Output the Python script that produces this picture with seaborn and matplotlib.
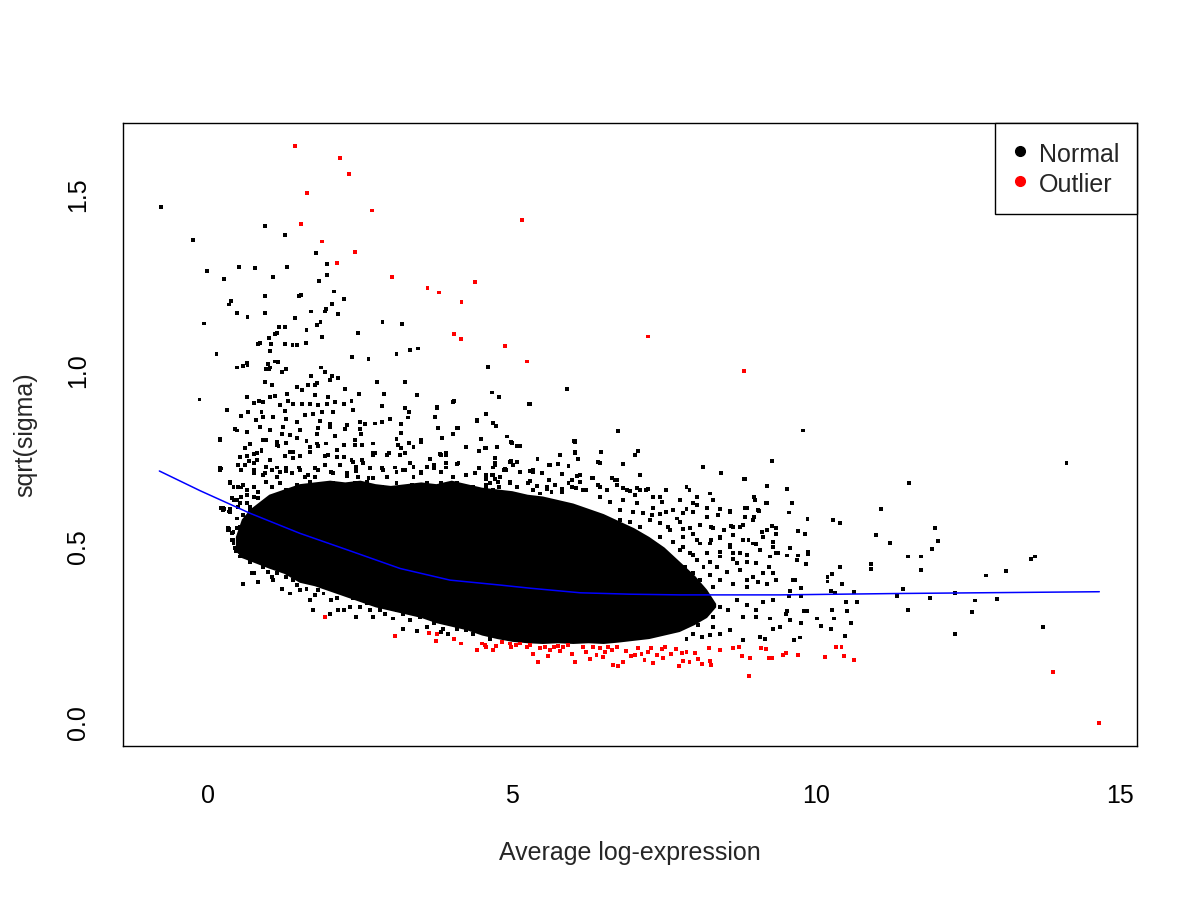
import numpy as np
import pandas as pd
import seaborn as sns
import matplotlib.pyplot as plt
from matplotlib.lines import Line2D

# ---------------- values ----------------
# sparse "Normal" genes above the main cloud
normal_upper = [(-0.78, 1.465), (-0.24, 1.371), (0.93, 1.411), (1.26, 1.387), (1.78, 1.334), (1.96, 1.303),
                (-0.02, 1.285), (0.51, 1.295), (0.77, 1.292), (1.30, 1.295), (0.27, 1.261), (1.07, 1.268),
                (1.96, 1.272), (1.83, 1.255), (2.07, 1.226), (0.93, 1.214), (1.49, 1.212), (1.53, 1.217),
                (2.24, 1.204), (0.38, 1.200), (0.35, 1.189), (2.04, 1.191), (1.94, 1.177), (1.92, 1.169),
                (1.70, 1.169), (0.48, 1.165), (0.94, 1.166), (2.14, 1.161), (0.65, 1.153), (1.43, 1.150),
                (-0.07, 1.135), (1.85, 1.138), (1.79, 1.130), (1.17, 1.125), (1.26, 1.126), (2.87, 1.138),
                (3.19, 1.134), (1.62, 1.116), (2.47, 1.108), (1.13, 1.108), (1.10, 1.104), (1.87, 1.097),
                (1.01, 1.093), (0.82, 1.077), (0.85, 1.079), (1.03, 1.078), (1.27, 1.076), (1.39, 1.074),
                (1.46, 1.075), (1.61, 1.079), (1.02, 1.056), (0.14, 1.049), (3.10, 1.048), (3.33, 1.061),
                (3.46, 1.064), (2.37, 1.039), (2.64, 1.034), (1.10, 1.027), (1.15, 1.025), (0.64, 1.023),
                (0.65, 1.017), (0.47, 1.010), (0.58, 1.013), (0.98, 1.020), (0.95, 1.005), (1.00, 1.007),
                (1.02, 1.010), (1.29, 1.005), (1.21, 0.996), (1.86, 1.010), (1.92, 0.996), (2.04, 0.985),
                (2.14, 0.979), (1.70, 0.987), (2.00, 0.975), (2.78, 0.970), (3.24, 0.968), (4.60, 1.011),
                (-0.14, 0.919)]

# left / middle part of the cloud, above and around the dense core
normal_left = [(0.94, 0.970), (1.05, 0.960), (1.46, 0.955), (1.54, 0.946), (1.65, 0.960), (1.76, 0.960),
               (1.79, 0.966), (2.25, 0.950), (2.49, 0.934), (2.90, 0.936), (3.44, 0.933), (0.64, 0.927),
               (1.02, 0.927), (1.10, 0.929), (1.30, 0.934), (1.76, 0.931), (1.98, 0.927),
               (0.75, 0.910), (0.84, 0.914), (0.91, 0.912), (1.18, 0.903), (1.32, 0.915), (1.40, 0.906),
               (1.54, 0.905), (1.68, 0.906), (1.81, 0.903), (1.95, 0.906), (2.09, 0.912), (2.24, 0.905),
               (2.36, 0.915), (2.86, 0.900), (3.24, 0.896), (3.76, 0.896), (4.03, 0.912), (0.31, 0.889),
               (0.66, 0.884), (0.88, 0.884), (1.27, 0.887), (1.87, 0.884), (2.06, 0.884), (2.39, 0.889),
               (3.31, 0.884), (0.54, 0.872), (0.79, 0.862), (0.91, 0.870), (1.07, 0.870), (1.29, 0.865),
               (1.46, 0.856), (1.59, 0.875), (1.73, 0.879), (1.84, 0.858), (2.01, 0.851), (2.28, 0.846),
               (2.50, 0.856), (2.58, 0.849), (2.75, 0.851), (2.86, 0.856), (2.99, 0.865), (3.18, 0.849),
               (3.29, 0.868), (3.73, 0.870), (4.42, 0.858), (0.44, 0.834), (0.85, 0.841), (1.02, 0.832),
               (1.24, 0.841), (1.51, 0.832), (1.81, 0.837), (2.01, 0.841), (2.25, 0.834), (2.50, 0.834),
               (3.79, 0.837), (4.12, 0.837), (4.04, 0.914), (3.76, 0.897), (4.10, 0.837), (4.42, 0.860),
               (0.20, 0.808), (0.64, 0.827), (0.91, 0.804), (1.21, 0.822), (1.35, 0.818), (1.46, 0.811),
               (1.62, 0.801), (1.79, 0.822), (1.94, 0.794), (2.09, 0.815), (2.23, 0.789), (2.42, 0.804),
               (2.51, 0.822), (2.72, 0.794), (3.10, 0.808), (3.17, 0.824), (3.31, 0.796), (3.50, 0.804),
               (4.03, 0.821), (0.96, 0.805), (1.13, 0.799), (1.79, 0.794), (3.85, 0.811), (4.49, 0.807),
               (0.61, 0.780), (0.75, 0.764), (0.88, 0.773), (1.16, 0.786), (1.27, 0.758), (1.51, 0.758),
               (1.68, 0.770), (1.92, 0.758), (2.12, 0.775), (2.23, 0.756), (2.36, 0.747), (2.53, 0.747),
               (2.72, 0.768), (2.97, 0.768), (3.18, 0.780), (3.24, 0.768), (3.65, 0.751), (3.82, 0.764),
               (3.92, 0.761), (4.45, 0.773), (0.53, 0.756), (0.68, 0.745), (1.02, 0.747), (1.40, 0.770),
               (0.21, 0.723), (0.55, 0.720), (0.75, 0.718), (0.94, 0.709), (1.13, 0.726), (1.29, 0.716),
               (1.49, 0.726), (1.65, 0.704), (1.81, 0.720), (2.06, 0.709), (2.28, 0.701), (2.44, 0.716),
               (2.72, 0.695), (2.88, 0.720), (3.08, 0.726), (3.24, 0.720), (3.38, 0.728), (3.51, 0.714),
               (3.71, 0.723), (3.92, 0.726), (4.10, 0.735), (4.45, 0.724), (0.20, 0.719), (0.49, 0.733),
               (0.31, 0.888), (0.47, 0.831), (0.20, 0.804),
               (0.36, 0.685), (0.42, 0.671), (0.55, 0.669), (0.64, 0.661), (0.39, 0.638), (0.47, 0.633),
               (0.55, 0.643), (0.26, 0.609), (0.36, 0.607), (0.50, 0.614), (0.64, 0.624), (0.75, 0.600),
               (0.33, 0.553), (0.42, 0.543), (0.53, 0.557), (0.61, 0.538), (0.69, 0.543), (0.77, 0.529),
               (0.42, 0.512), (0.53, 0.501), (0.64, 0.505), (0.83, 0.519), (0.75, 0.482), (0.55, 0.482),
               (0.69, 0.458), (0.83, 0.463), (0.75, 0.427), (0.91, 0.448), (0.57, 0.394), (0.83, 0.401),
               (0.25, 0.604), (0.35, 0.601), (0.35, 0.550), (0.40, 0.520), (0.46, 0.490)]

# semi-dense band just above the solid core (and its left nose)
normal_edge = [(0.69, 0.793), (0.88, 0.776), (1.13, 0.790), (1.28, 0.795), (1.51, 0.759), (1.68, 0.785),
               (1.81, 0.787), (1.98, 0.761), (2.12, 0.757), (2.23, 0.790), (2.42, 0.790), (2.53, 0.790),
               (2.72, 0.761), (2.94, 0.761), (3.13, 0.790), (3.16, 0.761), (3.38, 0.785), (3.51, 0.799),
               (3.83, 0.761), (3.92, 0.766), (4.25, 0.785), (4.56, 0.780), (4.75, 0.785), (0.64, 0.759),
               (0.80, 0.766), (1.35, 0.771), (1.40, 0.752), (2.75, 0.766), (0.80, 0.747),
               (0.20, 0.724), (0.50, 0.733), (0.61, 0.733), (0.75, 0.738), (0.96, 0.728), (1.05, 0.719),
               (1.18, 0.714), (1.29, 0.724), (1.38, 0.709), (1.51, 0.719), (1.59, 0.700), (1.76, 0.724),
               (1.92, 0.733), (2.03, 0.714), (2.17, 0.733), (2.28, 0.709), (2.39, 0.742), (2.44, 0.728),
               (2.55, 0.738), (2.66, 0.724), (2.86, 0.724), (3.10, 0.714), (3.21, 0.719), (3.32, 0.738),
               (3.51, 0.709), (3.60, 0.728), (3.71, 0.733), (3.84, 0.714), (3.92, 0.738), (4.12, 0.738),
               (4.25, 0.705), (4.39, 0.709), (4.58, 0.705), (4.72, 0.733), (0.75, 0.709), (0.91, 0.705),
               (1.13, 0.700), (1.76, 0.700), (2.47, 0.700), (2.64, 0.695), (2.94, 0.700), (3.38, 0.700),
               (4.03, 0.698),
               (0.36, 0.683), (0.50, 0.671), (0.58, 0.676), (0.75, 0.671), (0.83, 0.657), (0.64, 0.648),
               (0.75, 0.643), (0.96, 0.686), (1.05, 0.671), (1.18, 0.681), (1.29, 0.662), (1.46, 0.676),
               (1.57, 0.652), (1.68, 0.686), (1.79, 0.671), (1.90, 0.648), (2.06, 0.681), (2.17, 0.662),
               (2.28, 0.676), (2.42, 0.681), (2.50, 0.657), (2.61, 0.686), (2.72, 0.662), (2.86, 0.671),
               (2.94, 0.648), (3.10, 0.681), (3.21, 0.662), (3.35, 0.676), (3.46, 0.652), (3.60, 0.681),
               (3.71, 0.662), (3.84, 0.681), (3.95, 0.657), (4.09, 0.681), (4.20, 0.662), (4.36, 0.671),
               (4.47, 0.652), (4.58, 0.676), (4.69, 0.662), (4.77, 0.686), (0.25, 0.610), (0.42, 0.634),
               (0.53, 0.624), (0.69, 0.615), (0.83, 0.638),
               (0.22, 0.610), (0.36, 0.600), (0.47, 0.581), (0.58, 0.591), (0.69, 0.605), (0.80, 0.586),
               (0.91, 0.600), (0.33, 0.548), (0.39, 0.539), (0.47, 0.553), (0.55, 0.558), (0.64, 0.544),
               (0.75, 0.563), (0.83, 0.553), (0.42, 0.520), (0.53, 0.510), (0.64, 0.525), (0.77, 0.520),
               (0.91, 0.529), (0.44, 0.496), (0.58, 0.491), (0.69, 0.482), (0.83, 0.501), (0.96, 0.487),
               (0.53, 0.473), (0.75, 0.468),
               (4.56, 0.780), (4.75, 0.785), (5.00, 0.796), (5.10, 0.787), (6.04, 0.799), (5.79, 0.761),
               (6.04, 0.766), (6.47, 0.771), (7.02, 0.761), (7.08, 0.774), (4.72, 0.738), (4.97, 0.742),
               (5.02, 0.733), (4.89, 0.721), (5.13, 0.714), (5.35, 0.714), (5.49, 0.709), (5.63, 0.733),
               (5.76, 0.736), (5.93, 0.730), (6.09, 0.749), (6.45, 0.740), (6.83, 0.736), (4.58, 0.702),
               (4.69, 0.705), (4.80, 0.700), (6.12, 0.705), (7.11, 0.705),
               (4.57, 0.671), (4.64, 0.681), (4.78, 0.671), (4.97, 0.686), (5.08, 0.671), (5.27, 0.681),
               (5.35, 0.662), (5.46, 0.652), (5.57, 0.671), (5.71, 0.676), (5.82, 0.657), (5.93, 0.681),
               (6.06, 0.667), (6.17, 0.662), (6.31, 0.695), (6.42, 0.676), (6.56, 0.662), (6.69, 0.690),
               (6.72, 0.676), (6.89, 0.662), (7.05, 0.667), (7.21, 0.662), (7.54, 0.662), (7.87, 0.671),
               (8.04, 0.643), (8.26, 0.652), (8.31, 0.634), (9.00, 0.634), (9.19, 0.624), (6.45, 0.643),
               (6.61, 0.629), (6.83, 0.634), (7.05, 0.624), (7.32, 0.643), (7.46, 0.629), (7.76, 0.634),
               (7.98, 0.624), (7.02, 0.648),
               (6.78, 0.605), (6.99, 0.600), (7.16, 0.596), (7.32, 0.610), (7.54, 0.600), (7.65, 0.605),
               (7.82, 0.596), (7.98, 0.600), (8.20, 0.586), (8.39, 0.591), (8.59, 0.600), (8.86, 0.610),
               (9.05, 0.605), (6.78, 0.577), (6.94, 0.572), (7.11, 0.558), (7.27, 0.577), (7.43, 0.567),
               (7.60, 0.548), (7.76, 0.572), (7.93, 0.553), (8.09, 0.563), (8.31, 0.553), (8.48, 0.548),
               (8.64, 0.558), (8.80, 0.563), (8.97, 0.577), (9.19, 0.548), (9.35, 0.553), (6.83, 0.539),
               (7.05, 0.529), (7.21, 0.520), (7.43, 0.529), (7.65, 0.515), (7.82, 0.529), (8.04, 0.520),
               (8.26, 0.510), (8.42, 0.525), (8.59, 0.506), (8.80, 0.520), (8.97, 0.510), (9.13, 0.529),
               (9.30, 0.501), (6.78, 0.501), (6.99, 0.491), (7.32, 0.487), (7.54, 0.482), (7.76, 0.491),
               (7.98, 0.477), (8.20, 0.482), (8.42, 0.473), (8.64, 0.482), (8.86, 0.477), (9.08, 0.491),
               (9.24, 0.473), (9.35, 0.482)]

# lower edge of the cloud
normal_lower = [(1.21, 0.382), (1.35, 0.368), (1.51, 0.377), (1.62, 0.382), (1.68, 0.349), (1.76, 0.363),
                (1.90, 0.368), (2.03, 0.349), (2.12, 0.354), (2.23, 0.368), (2.39, 0.354), (1.73, 0.321),
                (2.01, 0.311), (2.14, 0.322), (2.44, 0.300), (2.72, 0.300), (2.91, 0.311), (3.05, 0.297),
                (3.21, 0.268), (3.43, 0.262), (3.71, 0.283), (3.95, 0.254), (4.25, 0.264), (2.47, 0.368),
                (2.61, 0.340), (2.83, 0.321), (3.21, 0.311), (3.49, 0.302), (3.87, 0.268),
                (0.72, 0.427), (1.07, 0.406), (1.13, 0.425), (1.29, 0.415), (0.91, 0.444), (0.99, 0.429),
                (1.05, 0.415), (1.18, 0.434), (1.40, 0.406), (1.46, 0.392), (1.81, 0.377), (1.92, 0.394),
                (2.23, 0.321), (2.33, 0.330), (2.50, 0.330), (2.66, 0.321), (2.86, 0.344), (3.10, 0.321),
                (3.32, 0.292), (3.60, 0.273), (3.83, 0.259), (4.09, 0.268), (4.36, 0.254), (4.64, 0.240)]

# right-hand part of the cloud and the sparse high-expression tail
normal_right = [(4.67, 0.939), (4.79, 0.925), (5.90, 0.948), (5.29, 0.905), (4.57, 0.877), (4.69, 0.853),
                (4.74, 0.843), (6.74, 0.829), (4.99, 0.797), (5.08, 0.787), (5.13, 0.787),
                (4.57, 0.780), (6.03, 0.801), (4.75, 0.785), (6.47, 0.770), (7.02, 0.761), (7.08, 0.772),
                (5.79, 0.761), (6.04, 0.770), (6.09, 0.749), (5.42, 0.749), (4.99, 0.744), (4.72, 0.754),
                (5.09, 0.742), (5.60, 0.733), (5.76, 0.737), (5.93, 0.730), (5.30, 0.716), (5.35, 0.718),
                (5.49, 0.709), (4.91, 0.720), (4.86, 0.720), (4.69, 0.726), (5.14, 0.714), (5.83, 0.707),
                (6.42, 0.742), (6.83, 0.735), (8.14, 0.728), (8.43, 0.711), (9.27, 0.744), (7.11, 0.704),
                (6.34, 0.695), (6.64, 0.695), (6.72, 0.690), (5.98, 0.690), (6.07, 0.701), (6.12, 0.685),
                (5.61, 0.690), (5.29, 0.688), (4.96, 0.683), (4.67, 0.704), (4.58, 0.692), (4.72, 0.692),
                (8.82, 0.692), (9.19, 0.673), (5.09, 0.671), (5.41, 0.673), (5.57, 0.666), (5.65, 0.657),
                (5.82, 0.666), (5.98, 0.671), (6.22, 0.663), (6.45, 0.671), (6.56, 0.663), (6.83, 0.668),
                (6.94, 0.659), (7.11, 0.663), (7.24, 0.666), (7.54, 0.661), (7.87, 0.669), (7.92, 0.661),
                (8.26, 0.652), (8.31, 0.633), (5.28, 0.905), (6.02, 0.800), (4.92, 0.814), (4.99, 0.798),
                (7.43, 0.643), (7.76, 0.635), (7.87, 0.607), (8.04, 0.619), (8.20, 0.611), (8.42, 0.607),
                (8.59, 0.602), (8.83, 0.611), (8.98, 0.641), (9.07, 0.603), (9.18, 0.626), (9.27, 0.559),
                (9.35, 0.538), (8.98, 0.584), (8.83, 0.584), (8.60, 0.559), (8.75, 0.557), (8.64, 0.534),
                (8.42, 0.529), (8.28, 0.519), (8.09, 0.510), (7.98, 0.536), (7.82, 0.550), (7.57, 0.557),
                (7.43, 0.595), (7.30, 0.590), (7.71, 0.581), (8.28, 0.557), (8.42, 0.486), (8.59, 0.501),
                (8.75, 0.482), (8.89, 0.521), (9.02, 0.508), (9.11, 0.543), (9.30, 0.515), (9.37, 0.483),
                (8.64, 0.467), (8.70, 0.455), (8.86, 0.458), (9.02, 0.455), (9.22, 0.444), (9.30, 0.425),
                (9.13, 0.425), (8.97, 0.415), (8.86, 0.406), (8.75, 0.434), (8.53, 0.429), (8.37, 0.444),
                (8.26, 0.420), (8.42, 0.406), (8.64, 0.396), (8.86, 0.387), (9.05, 0.401), (9.19, 0.396),
                (9.35, 0.406), (8.70, 0.349), (8.86, 0.335), (9.02, 0.321), (9.13, 0.344), (9.30, 0.349),
                (8.56, 0.321), (8.42, 0.330), (8.80, 0.302), (9.02, 0.300), (9.24, 0.297), (9.30, 0.266),
                (9.08, 0.245), (9.16, 0.240), (8.80, 0.235), (8.59, 0.264), (8.42, 0.254), (8.31, 0.273),
                (8.12, 0.245), (7.98, 0.254), (7.87, 0.240), (7.82, 0.501), (7.93, 0.482), (8.04, 0.463),
                (7.85, 0.444), (7.98, 0.425), (8.09, 0.406), (7.90, 0.387), (8.04, 0.368), (8.20, 0.482),
                (8.26, 0.458), (8.15, 0.444), (8.31, 0.387), (8.20, 0.358), (7.82, 0.349), (7.98, 0.321),
                (8.15, 0.311), (8.31, 0.302), (7.87, 0.292), (8.06, 0.278), (7.76, 0.268), (8.26, 0.250),
                (7.82, 0.406), (7.74, 0.368), (7.71, 0.321), (8.15, 0.728), (8.44, 0.711), (8.83, 0.692),
                (9.78, 0.831), (9.27, 0.743), (14.12, 0.740), (11.53, 0.683), (9.53, 0.666), (9.61, 0.626),
                (11.07, 0.609), (9.56, 0.598), (9.86, 0.580), (10.28, 0.578), (10.40, 0.569), (11.96, 0.555),
                (12.00, 0.518), (11.91, 0.494), (10.99, 0.535), (11.22, 0.512), (11.52, 0.473), (11.73, 0.473),
                (11.72, 0.436), (13.54, 0.465), (13.60, 0.473), (12.80, 0.419), (13.13, 0.433), (10.91, 0.453),
                (10.91, 0.437), (10.19, 0.416), (10.19, 0.402), (10.27, 0.424), (10.40, 0.444), (10.43, 0.396),
                (10.24, 0.375), (10.32, 0.370), (10.63, 0.372), (11.43, 0.382), (11.34, 0.362), (12.29, 0.370),
                (11.88, 0.356), (12.62, 0.348), (12.97, 0.352), (10.49, 0.344), (10.68, 0.345), (11.52, 0.322),
                (12.56, 0.315), (10.26, 0.320), (10.51, 0.319), (10.02, 0.297), (10.30, 0.297), (10.58, 0.283),
                (10.09, 0.275), (10.24, 0.267), (13.74, 0.274), (12.28, 0.252), (10.48, 0.247), (9.64, 0.235),
                (9.74, 0.243), (9.41, 0.272), (9.58, 0.293), (9.76, 0.285), (9.50, 0.310), (9.80, 0.318),
                (9.57, 0.497), (9.53, 0.476), (9.57, 0.375), (9.56, 0.361), (9.70, 0.545), (9.69, 0.464),
                (9.71, 0.476), (9.82, 0.536), (9.83, 0.451), (9.87, 0.487), (9.87, 0.480), (9.75, 0.384),
                (9.75, 0.360), (9.66, 0.405), (9.62, 0.407), (9.53, 0.319), (9.85, 0.319)]

# genes flagged as outliers
outlier_high = [(1.43, 1.639), (2.17, 1.605), (2.32, 1.559), (1.63, 1.507), (2.70, 1.456), (1.53, 1.417),
                (1.88, 1.368), (2.42, 1.338), (2.12, 1.306), (3.03, 1.268), (3.61, 1.235), (3.80, 1.223),
                (4.17, 1.195), (4.05, 1.104), (4.16, 1.091), (5.17, 1.430), (4.39, 1.252), (4.89, 1.072),
                (5.25, 1.027), (7.24, 1.098), (8.82, 0.999)]

outlier_low = [(1.93, 0.300), (3.08, 0.246), (3.64, 0.255), (3.77, 0.252), (3.75, 0.232), (4.05, 0.238),
               (4.16, 0.226), (4.42, 0.207), (4.50, 0.226), (4.55, 0.221), (4.58, 0.216), (4.69, 0.207),
               (4.73, 0.218), (4.84, 0.231), (4.96, 0.226), (4.99, 0.216), (5.06, 0.221), (5.13, 0.226),
               (5.24, 0.216), (5.29, 0.221), (5.35, 0.196), (5.43, 0.174), (5.46, 0.212), (5.54, 0.216),
               (5.59, 0.190), (5.62, 0.207), (5.69, 0.216), (5.76, 0.218), (5.79, 0.205), (5.84, 0.216),
               (5.92, 0.221), (5.98, 0.196), (6.03, 0.174), (6.17, 0.216), (6.22, 0.202), (6.28, 0.183),
               (6.33, 0.216), (6.39, 0.193), (6.44, 0.212), (6.50, 0.188), (6.53, 0.202), (6.58, 0.216),
               (6.64, 0.207), (6.66, 0.164), (6.72, 0.216), (6.75, 0.161), (6.83, 0.174), (6.88, 0.205),
               (6.96, 0.190), (7.02, 0.193), (7.07, 0.214), (7.13, 0.197), (7.18, 0.180), (7.24, 0.202),
               (7.29, 0.212), (7.32, 0.171), (7.38, 0.193), (7.46, 0.209), (7.49, 0.186), (7.51, 0.216),
               (7.62, 0.196), (7.70, 0.209), (7.75, 0.161), (7.79, 0.199), (7.81, 0.177), (7.87, 0.202),
               (7.92, 0.174), (8.01, 0.199), (8.06, 0.183), (8.12, 0.167), (8.24, 0.214), (8.25, 0.176),
               (8.28, 0.164), (8.42, 0.207), (8.64, 0.214), (8.74, 0.216), (8.79, 0.190), (8.92, 0.186),
               (8.90, 0.133), (9.10, 0.214), (9.18, 0.209), (9.23, 0.186), (9.27, 0.186), (9.45, 0.194),
               (9.51, 0.200), (9.70, 0.194), (10.15, 0.187), (10.33, 0.215), (10.42, 0.216), (10.46, 0.191),
               (10.63, 0.180), (13.90, 0.144), (14.66, 0.000)]

# saturated core of the cloud: lower / upper edge of the solid black region
core_x = [0.45, 0.55, 0.7, 0.85, 1.0, 1.25, 1.5, 1.75, 2.0, 2.25, 2.5, 2.75, 3.0, 3.25, 3.5, 3.75, 4.0,
          4.25, 4.5, 4.75, 5.0, 5.25, 5.5, 5.75, 6.0, 6.25, 6.5, 6.75, 7.0, 7.25, 7.5, 7.75, 8.0, 8.2, 8.35]
core_upper = [0.53, 0.58, 0.61, 0.63, 0.65, 0.665, 0.68, 0.685, 0.69, 0.685, 0.69, 0.68, 0.675, 0.68,
              0.685, 0.68, 0.69, 0.68, 0.67, 0.665, 0.66, 0.65, 0.645, 0.635, 0.625, 0.61, 0.595, 0.575,
              0.555, 0.53, 0.50, 0.46, 0.42, 0.38, 0.34]
core_lower = [0.49, 0.47, 0.46, 0.45, 0.44, 0.425, 0.40, 0.39, 0.375, 0.36, 0.345, 0.33, 0.32, 0.31,
              0.30, 0.285, 0.275, 0.265, 0.25, 0.24, 0.232, 0.228, 0.226, 0.228, 0.226, 0.228, 0.226, 0.23,
              0.235, 0.24, 0.25, 0.26, 0.28, 0.30, 0.33]

# fitted mean-variance trend
trend_x = [-0.80, -0.13, 0.69, 1.51, 2.34, 3.16, 3.98, 4.80, 5.30, 6.12, 6.94, 7.76, 9.41, 11.38, 14.66]
trend_y = [0.716, 0.660, 0.596, 0.539, 0.489, 0.439, 0.406, 0.392, 0.383, 0.370, 0.366, 0.364, 0.364, 0.368,
           0.373]

x_ticks = [0, 5, 10, 15]
y_ticks = [0.0, 0.5, 1.0, 1.5]
y_tick_labels = ["0.0", "0.5", "1.0", "1.5"]

# ---------------- build table ----------------
normal = np.array(normal_upper + normal_left + normal_edge + normal_lower + normal_right)
outlier = np.array(outlier_high + outlier_low)
pts = pd.DataFrame({
    "A": np.concatenate([normal[:, 0], outlier[:, 0]]),
    "s": np.concatenate([normal[:, 1], outlier[:, 1]]),
    "status": ["Normal"] * len(normal) + ["Outlier"] * len(outlier),
})

sns.set_style("white")
plt.rcParams['font.family'] = ['Liberation Sans', 'DejaVu Sans']

fig = plt.figure(figsize=(12, 9), dpi=100)
ax = fig.add_axes([0.1025, 0.1711, 0.845, 0.6922])

ax.fill_between(core_x, core_lower, core_upper, color="black", linewidth=0, zorder=1)

sns.scatterplot(data=pts, x="A", y="s", hue="status",
                palette={"Normal": "black", "Outlier": "red"},
                marker="s", s=8, linewidth=0, legend=False, ax=ax, zorder=2)

sns.lineplot(x=trend_x, y=trend_y, color="blue", linewidth=1.1, ax=ax, zorder=3)

ax.set_xlim(-1.398, 15.28)
ax.set_ylim(-0.0653, 1.7045)
ax.set_xticks(x_ticks)
ax.set_yticks(y_ticks)
ax.set_yticklabels(y_tick_labels)
ax.tick_params(direction="out", length=10.5, width=0.9, labelsize=18, colors="black")
ax.tick_params(axis="x", pad=17)
ax.tick_params(axis="y", pad=13)
for lbl in ax.get_yticklabels():
    lbl.set_rotation(90)
    lbl.set_va("center")

for sp in ax.spines.values():
    sp.set_visible(True)
    sp.set_color("black")
    sp.set_linewidth(1.0)

ax.set_xlabel("Average log-expression", fontsize=18)
ax.set_ylabel("sqrt(sigma)", fontsize=18)
ax.xaxis.set_label_coords(0.5, -0.152)
ax.yaxis.set_label_coords(-0.085, 0.5)

handles = [Line2D([], [], marker="o", color="black", linestyle="", markersize=7),
           Line2D([], [], marker="o", color="red", linestyle="", markersize=7)]
leg = ax.legend(handles, ["Normal", "Outlier"], loc="upper right", fontsize=18,
                frameon=True, fancybox=False, edgecolor="black", framealpha=1,
                borderaxespad=0, borderpad=0.7, labelspacing=0.15, handleheight=1.2,
                handlelength=0.6, handletextpad=0.45)
leg.get_frame().set_linewidth(1.0)

fig.savefig("out.png", dpi=100)
